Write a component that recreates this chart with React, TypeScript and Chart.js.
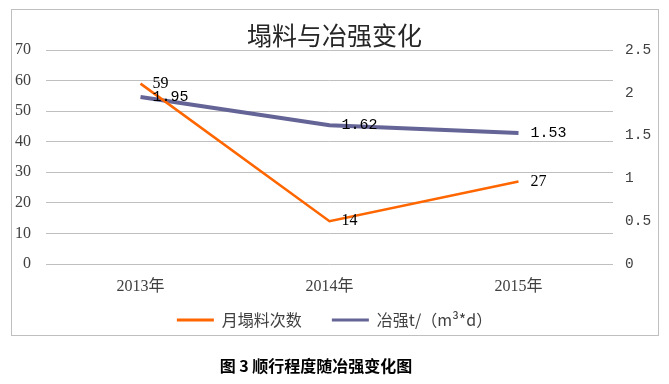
import React, { useEffect, useRef } from "react";
import { Chart, registerables } from "chart.js";

Chart.register(...registerables);

const titleText = "塌料与冶强变化";
const captionText = "图 3 顺行程度随冶强变化图";
const categories = ["2013年", "2014年", "2015年"];
const seriesNames = ["月塌料次数", "冶强t/（m³*d）"];
const collapseCounts = [59, 14, 27];
const smeltingIntensity = [1.95, 1.62, 1.53];
const leftAxisRange = [0, 70, 10];
const rightAxisRange = [0, 2.5, 0.5];

const ORANGE = "#FF6600";
const PURPLE = "#646496";
const GRID = "#BFBFBF";
const TEXT = "#404040";

const valueLabels = {
  id: "valueLabels",
  afterDatasetsDraw(chart: any) {
    const ctx = chart.ctx;
    chart.data.datasets.forEach((ds: any, i: number) => {
      const meta = chart.getDatasetMeta(i);
      ctx.save();
      ctx.font = i === 0 ? '16px "Liberation Serif"' : '15px "Liberation Mono"';
      ctx.fillStyle = "#000";
      ctx.textBaseline = "middle";
      ctx.textAlign = "left";
      meta.data.forEach((pt: any, j: number) => {
        ctx.fillText(String(ds.data[j]), pt.x + 12, pt.y);
      });
      ctx.restore();
    });
  },
};

// let the category labels draw below the (thin) x-axis box without clipping
const unclipX = {
  id: "unclipX",
  afterLayout(chart: any) {
    const x = chart.scales.x;
    if (x) x.bottom = x.top + 40;
  },
};

export default function App() {
  const ref = useRef<HTMLCanvasElement | null>(null);

  useEffect(() => {
    if (!ref.current) return;
    const chart = new Chart(ref.current, {
      type: "line",
      data: {
        labels: categories,
        datasets: [
          {
            label: seriesNames[0],
            data: collapseCounts,
            borderColor: ORANGE,
            backgroundColor: ORANGE,
            borderWidth: 2.5,
            pointRadius: 0,
            tension: 0,
            yAxisID: "y",
          },
          {
            label: seriesNames[1],
            data: smeltingIntensity,
            borderColor: PURPLE,
            backgroundColor: PURPLE,
            borderWidth: 4,
            pointRadius: 0,
            tension: 0,
            yAxisID: "y1",
          },
        ],
      },
      options: {
        animation: false,
        responsive: false,
        devicePixelRatio: 1,
        layout: { padding: { top: 0, left: 0, right: 0, bottom: 46 } },
        plugins: {
          tooltip: { enabled: false },
          title: {
            display: true,
            text: titleText,
            color: "#262626",
            font: { family: '"Noto Sans CJK SC"', size: 25, weight: "normal" },
            padding: { top: 20, bottom: 0 },
          },
          legend: {
            position: "bottom",
            labels: {
              boxWidth: 37,
              boxHeight: 3,
              padding: 30,
              color: TEXT,
              font: { family: '"Noto Sans CJK SC"', size: 16 },
              generateLabels: (c: any) =>
                (Chart.defaults.plugins.legend.labels as any)
                  .generateLabels(c)
                  .map((l: any) => ({ ...l, lineWidth: 0, strokeStyle: "rgba(0,0,0,0)" })),
            },
          },
        },
        scales: {
          x: {
            offset: true,
            grid: { display: false, drawTicks: false },
            border: { display: false },
            ticks: {
              color: TEXT,
              padding: 13,
              maxRotation: 0,
              font: { family: '"Liberation Serif", "Noto Sans CJK SC"', size: 16 },
            },
            afterFit: (s: any) => {
              s.height = 18;
            },
          },
          y: {
            position: "left",
            min: leftAxisRange[0],
            max: leftAxisRange[1],
            ticks: {
              stepSize: leftAxisRange[2],
              color: TEXT,
              padding: 15,
              font: { family: '"Liberation Serif"', size: 16 },
              callback: (v: any) => String(v),
            },
            grid: { color: GRID, drawTicks: false, lineWidth: 1 },
            border: { display: false },
            afterFit: (s: any) => {
              s.width = 46;
            },
          },
          y1: {
            position: "right",
            min: rightAxisRange[0],
            max: rightAxisRange[1],
            ticks: {
              stepSize: rightAxisRange[2],
              color: TEXT,
              padding: 12,
              font: { family: '"Liberation Mono"', size: 14.5 },
              callback: (v: any) => String(Math.round(Number(v) * 10) / 10),
            },
            grid: { drawOnChartArea: false, drawTicks: false },
            border: { display: false },
            afterFit: (s: any) => {
              s.width = 56;
            },
          },
        },
      },
      plugins: [valueLabels, unclipX],
    });
    return () => chart.destroy();
  }, []);

  return (
    <div
      style={{
        position: "fixed",
        left: 0,
        top: 0,
        width: 669,
        height: 384,
        background: "#fff",
        overflow: "hidden",
      }}
    >
      <div
        style={{
          position: "absolute",
          left: 11,
          top: 9,
          width: 648,
          height: 327,
          boxSizing: "border-box",
          border: "1px solid " + GRID,
        }}
      />
      <canvas
        ref={ref}
        width={669}
        height={384}
        style={{ position: "absolute", left: 0, top: 0, display: "block" }}
      />
      <div
        style={{
          position: "absolute",
          left: 0,
          top: 355,
          width: 632,
          textAlign: "center",
          fontFamily: '"Noto Sans CJK SC"',
          fontWeight: "bold",
          fontSize: 16,
          lineHeight: "20px",
          color: "#000",
          whiteSpace: "pre",
        }}
      >
        {captionText}
      </div>
    </div>
  );
}
